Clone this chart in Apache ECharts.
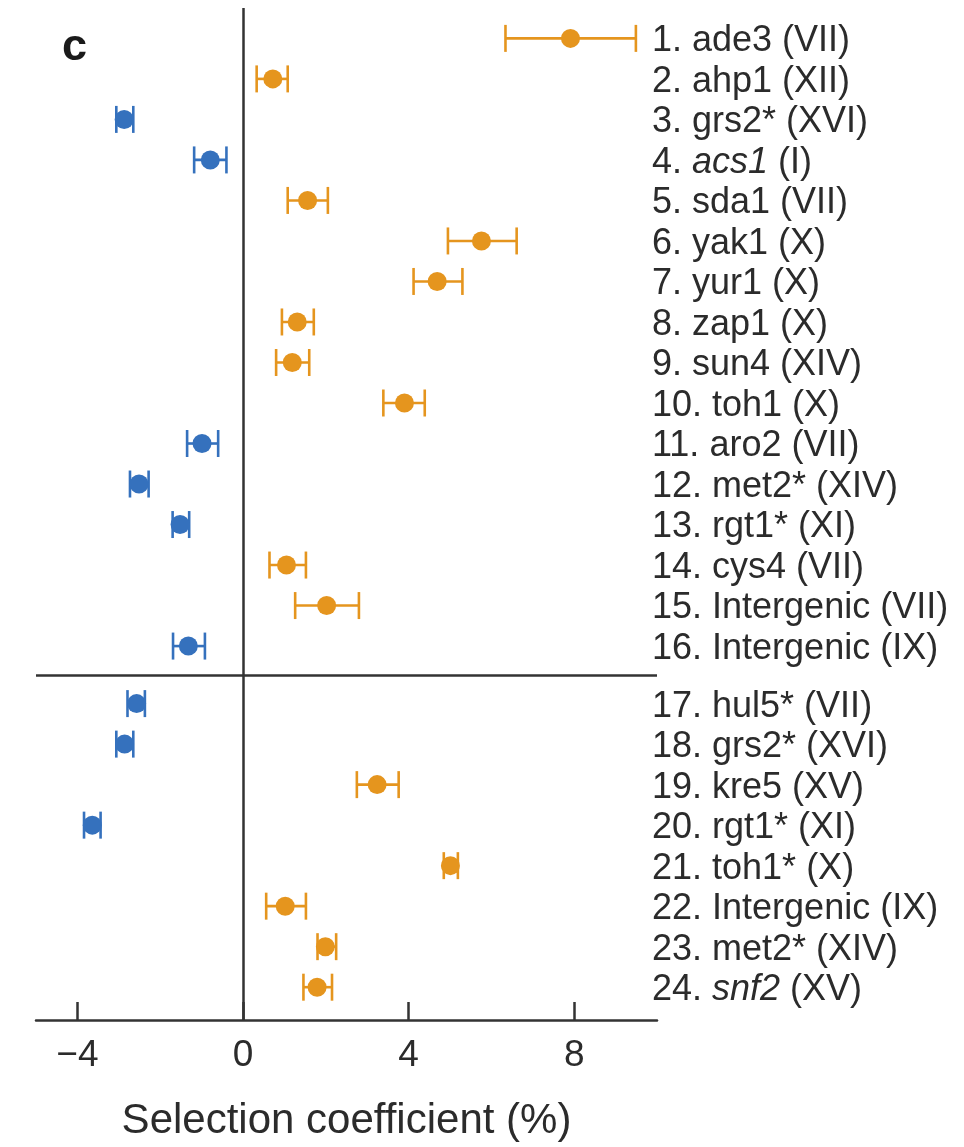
<!DOCTYPE html>
<html>
<head>
<meta charset="utf-8">
<script src="https://cdn.jsdelivr.net/npm/echarts@6/dist/echarts.min.js"></script>
<style>html,body{margin:0;padding:0;background:#fff}#chart{width:964px;height:1147px}</style>
</head>
<body>
<div id="chart"></div>
<script>
// Row labels (rich-text markup {i|...} = italic gene name)
const labels = [
  '1. ade3 (VII)', '2. ahp1 (XII)', '3. grs2* (XVI)', '4. {i|acs1} (I)',
  '5. sda1 (VII)', '6. yak1 (X)', '7. yur1 (X)', '8. zap1 (X)',
  '9. sun4 (XIV)', '10. toh1 (X)', '11. aro2 (VII)', '12. met2* (XIV)',
  '13. rgt1* (XI)', '14. cys4 (VII)', '15. Intergenic (VII)', '16. Intergenic (IX)',
  '17. hul5* (VII)', '18. grs2* (XVI)', '19. kre5 (XV)', '20. rgt1* (XI)',
  '21. toh1* (X)', '22. Intergenic (IX)', '23. met2* (XIV)', '24. {i|snf2} (XV)'
];
// Selection coefficient (%) estimates
const values = [7.91, 0.72, -2.87, -0.79, 1.56, 5.76, 4.69, 1.31, 1.19, 3.90, -0.99, -2.51,
  -1.52, 1.05, 2.02, -1.32, -2.57, -2.86, 3.24, -3.64, 5.01, 1.02, 1.99, 1.79];
const lower = [6.34, 0.33, -3.06, -1.18, 1.08, 4.95, 4.12, 0.94, 0.80, 3.39, -1.35, -2.73,
  -1.70, 0.64, 1.26, -1.69, -2.79, -3.06, 2.75, -3.84, 4.85, 0.56, 1.80, 1.46];
const upper = [9.49, 1.08, -2.65, -0.40, 2.05, 6.61, 5.30, 1.71, 1.60, 4.39, -0.60, -2.28,
  -1.30, 1.52, 2.80, -0.92, -2.37, -2.65, 3.76, -3.44, 5.19, 1.52, 2.25, 2.15];
const xTicks = [-4, 0, 4, 8];
const groupSize = 16;     // rows in the first block
const groupGap = 0.42;    // extra spacing between the two blocks (in row units)

const rowPos = labels.map((_, i) => i + 1 + (i >= groupSize ? groupGap : 0));
const sepPos = (rowPos[groupSize - 1] + rowPos[groupSize]) / 2;

const ORANGE = '#E5951E', BLUE = '#3571BD', INK = '#2b2b2b';
const FONT = '"Liberation Sans", Arial, Helvetica, sans-serif';

const data = values.map((v, i) => [rowPos[i], v, lower[i], upper[i]]);

const chart = echarts.init(document.getElementById('chart'), null, {renderer: 'canvas'});
chart.setOption({
  animation: false,
  backgroundColor: '#fff',
  grid: {left: 36, right: 307, top: 8, bottom: 121, containLabel: false},
  xAxis: {
    type: 'value', min: -5, max: 10,
    axisLine: {show: true, lineStyle: {color: '#333', width: 2.5}},
    axisTick: {show: true, inside: true, length: 18, customValues: xTicks, lineStyle: {color: '#333', width: 2.5}},
    axisLabel: {customValues: xTicks, margin: 17, fontSize: 37, fontFamily: FONT, color: INK,
      formatter: v => (v < 0 ? '\u2212' + Math.abs(v) : String(v))},
    splitLine: {show: false},
    name: 'Selection coefficient (%)', nameLocation: 'middle', nameGap: 80,
    nameTextStyle: {fontSize: 42, fontFamily: FONT, color: INK}
  },
  yAxis: {
    type: 'value', inverse: true, min: 0.25, max: 25.23, position: 'right',
    axisLine: {show: false}, axisTick: {show: false}, splitLine: {show: false},
    axisLabel: {
      customValues: rowPos, margin: -5, align: 'left', fontSize: 36, fontFamily: FONT, color: INK,
      padding: [6, 0, 0, 0],
      formatter: v => {
        let best = 0;
        rowPos.forEach((p, i) => { if (Math.abs(p - v) < Math.abs(rowPos[best] - v)) best = i; });
        return labels[best];
      },
      rich: {i: {fontStyle: 'italic', fontSize: 36, fontFamily: FONT, color: INK}}
    }
  },
  graphic: [{
    type: 'text', left: 62, top: 25,
    style: {text: 'c', font: 'bold 45px ' + FONT, fill: '#1a1a1a'}
  }],
  series: [{
    type: 'custom',
    data: data,
    encode: {x: [1, 2, 3], y: 0},
    renderItem: (params, api) => {
      const y = api.value(0);
      const v = api.value(1);
      const c = api.coord([v, y]);
      const lo = api.coord([api.value(2), y]);
      const hi = api.coord([api.value(3), y]);
      const col = v < 0 ? BLUE : ORANGE;
      const h = 13.5;
      const ls = {stroke: col, lineWidth: 2.6};
      return {
        type: 'group',
        children: [
          {type: 'line', shape: {x1: lo[0], y1: c[1], x2: hi[0], y2: c[1]}, style: ls},
          {type: 'line', shape: {x1: lo[0], y1: c[1] - h, x2: lo[0], y2: c[1] + h}, style: ls},
          {type: 'line', shape: {x1: hi[0], y1: c[1] - h, x2: hi[0], y2: c[1] + h}, style: ls},
          {type: 'circle', shape: {cx: c[0], cy: c[1], r: 9.5}, style: {fill: col}}
        ]
      };
    },
    markLine: {
      silent: true, symbol: 'none', label: {show: false},
      lineStyle: {color: '#333', width: 2.5, type: 'solid'},
      data: [{xAxis: 0}, {yAxis: sepPos}]
    },
    z: 3
  }]
});
</script>
</body>
</html>
